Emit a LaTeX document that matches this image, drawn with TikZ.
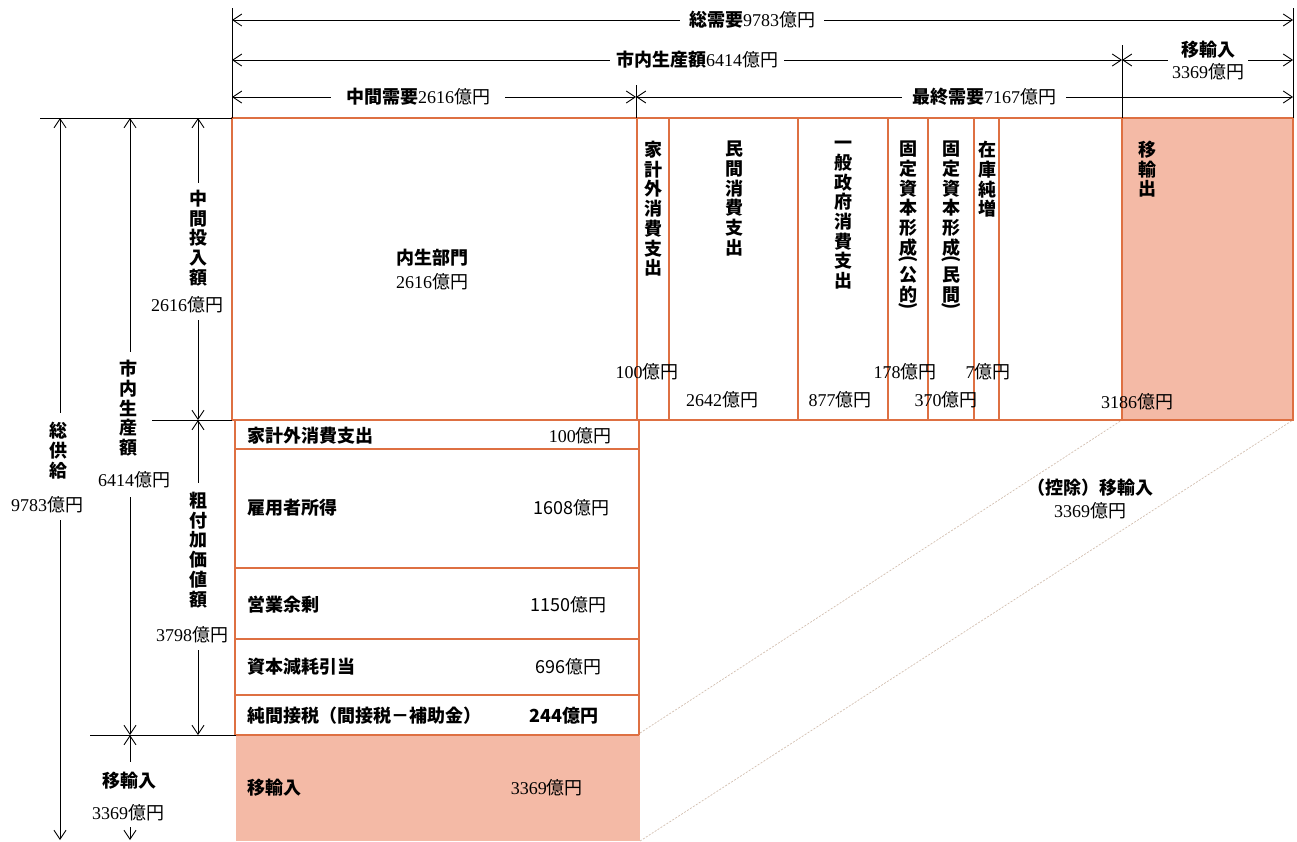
\documentclass[tikz,border=0pt]{standalone}
\usepackage{fontspec}
\setmainfont{Liberation Serif}
\newfontfamily\jp{Noto Sans CJK JP}
\usetikzlibrary{arrows.meta}
\definecolor{lineor}{RGB}{222,112,66}
\definecolor{salmon}{RGB}{244,186,166}
\definecolor{dotc}{RGB}{210,190,175}
\newcommand\ok[1]{#1{\jp 億円}}
\newcommand\B{\jp\bfseries}
\newcommand\vop{\rotatebox[origin=c]{-90}{(}}
\newcommand\vcl{\rotatebox[origin=c]{-90}{)}}
\begin{document}
\begin{tikzpicture}[x=1pt,y=-1pt,
  tab/.style={draw=lineor, line width=1.1pt},
  guide/.style={draw=black, line width=0.9pt},
  barb/.tip={Straight Barb[length=9pt,width=12pt,line width=0.9pt]},
  dim/.style={guide, barb-barb},
  dimS/.style={guide, barb-},
  dimE/.style={guide, -barb},
  diag/.style={draw=dotc, line width=0.7pt, dash pattern=on 2pt off 1.5pt},
  lbl/.style={fill=white, inner xsep=6pt, inner ysep=1pt, font=\fontsize{18}{21}\selectfont},
  txt/.style={inner sep=1pt, font=\fontsize{18}{21}\selectfont},
  vt/.style={align=center, inner sep=0pt, anchor=north, font=\B\fontsize{18}{19.7}\selectfont}]
\useasboundingbox (0,0) rectangle (1297,841);
% ---------- fills
\fill[salmon] (1122,118) rectangle (1293,420);
\fill[salmon] (236,735) rectangle (640,841);
% ---------- diagonal guides
\coordinate (d1a) at (640,733); \coordinate (d1b) at (1122,420);
\coordinate (d2a) at (640,841); \coordinate (d2b) at (1293,420);
\draw[diag] (d1a) -- (d1b);
\draw[diag] (d2a) -- (d2b);
% ---------- top table
\draw[tab] (232,118) rectangle (1293,420);
\foreach \x in {637,669,798,888,928,974,999,1122} \draw[tab] (\x,118) -- (\x,420);
% ---------- value-added block
\draw[tab] (235,420) -- (235,735) (639,420) -- (639,735);
\foreach \y in {449,568,639,695,735} \draw[tab] (235,\y) -- (639,\y);
% ---------- black guide lines
\draw[guide] (232,8) -- (232,118);
\draw[guide] (1293,8) -- (1293,118);
\draw[guide] (1122,45) -- (1122,118);
\draw[guide] (636,85) -- (636,118);
\draw[guide] (40,118) -- (232,118);
\draw[guide] (152,420) -- (232,420);
\draw[guide] (90,735) -- (236,735);
% ---------- top dimension lines
\coordinate (t1L) at (232,20);  \coordinate (t1R) at (1293,20);
\coordinate (t2L) at (232,60);  \coordinate (t2M) at (1122,60); \coordinate (t2R) at (1293,60);
\coordinate (t3L) at (232,97);  \coordinate (t3M) at (636,97);  \coordinate (t3R) at (1293,97);
\draw[dim] (t1L) -- (t1R);
\draw[dim] (t2L) -- (t2M);
\draw[dim] (t2M) -- (t2R);
\draw[dim] (t3L) -- (t3M);
\draw[dim] (t3M) -- (t3R);
\node[lbl, inner xsep=9pt] (sojuyo) at (752,20) {{\B 総需要}\ok{9783}};
\node[lbl] (shinai) at (697,60) {{\B 市内生産額}\ok{6414}};
\node[lbl, inner xsep=15pt] (chukan) at (418,97) {{\B 中間需要}\ok{2616}};
\node[lbl, inner xsep=10pt] (saishu) at (984,97) {{\B 最終需要}\ok{7167}};
\node[fill=white, inner xsep=4pt, inner ysep=0pt, align=center, font=\fontsize{18}{22}\selectfont] (iyunyuT) at (1208,61) {{\B 移輸入}\\\ok{3369}};
% ---------- left dimension lines
\coordinate (s0) at (60,118);  \coordinate (s1) at (60,413); \coordinate (s2) at (60,520); \coordinate (s3) at (60,840);
\draw[dimS] (s0) -- (s1);
\draw[dimE] (s2) -- (s3);
\node[vt] (sokyo) at (58,422) {総\\供\\給};
\node[txt] (sokyoN) at (47,505) {\ok{9783}};
\coordinate (p0) at (130,118); \coordinate (p1) at (130,352); \coordinate (p2) at (130,497); \coordinate (p3) at (130,735);
\draw[dimS] (p0) -- (p1);
\draw[dimE] (p2) -- (p3);
\node[vt] (seisan) at (128,360) {市\\内\\生\\産\\額};
\node[txt] (seisanN) at (134,480) {\ok{6414}};
\coordinate (m0) at (130,735); \coordinate (m1) at (130,762); \coordinate (m2) at (130,827); \coordinate (m3) at (130,840);
\draw[dimS] (m0) -- (m1);
\draw[dimE] (m2) -- (m3);
\node[txt, font=\B\fontsize{18}{21}\selectfont] (iyunyuL) at (129,781) {移輸入};
\node[txt] (iyunyuLN) at (128,813) {\ok{3369}};
\coordinate (c0) at (198,118); \coordinate (c1) at (198,183); \coordinate (c2) at (198,320); \coordinate (c3) at (198,420);
\draw[dimS] (c0) -- (c1);
\draw[dimE] (c2) -- (c3);
\node[vt] (tonyu) at (198,190) {中\\間\\投\\入\\額};
\node[txt] (tonyuN) at (187,305) {\ok{2616}};
\coordinate (v0) at (198,420); \coordinate (v1) at (198,483); \coordinate (v2) at (198,650); \coordinate (v3) at (198,735);
\draw[dimS] (v0) -- (v1);
\draw[dimE] (v2) -- (v3);
\node[vt] (fuka) at (198,492) {粗\\付\\加\\価\\値\\額};
\node[txt] (fukaN) at (192,635) {\ok{3798}};
% ---------- top table texts
\node[txt, font=\B\fontsize{18}{21}\selectfont] (naisei) at (432,258) {内生部門};
\node[txt] (naiseiN) at (432,282) {\ok{2616}};
\node[vt] (h1) at (653,141) {家\\計\\外\\消\\費\\支\\出};
\node[vt] (h2) at (734,141) {民\\間\\消\\費\\支\\出};
\node[vt] (h3) at (843,141) {一\\般\\政\\府\\消\\費\\支\\出};
\node[vt] (h4) at (908,141) {固\\定\\資\\本\\形\\成\\[-9pt]\vop\\[-3pt]公\\的\\[-9pt]\vcl};
\node[vt] (h5) at (951,141) {固\\定\\資\\本\\形\\成\\[-9pt]\vop\\[-3pt]民\\間\\[-9pt]\vcl};
\node[vt] (h6) at (987,141) {在\\庫\\純\\増};
\node[vt] (h7) at (1147,141) {移\\輸\\出};
\node[txt] (n1) at (647,372) {\ok{100}};
\node[txt] (n2) at (722,400) {\ok{2642}};
\node[txt] (n3) at (840,400) {\ok{877}};
\node[txt] (n4) at (905,372) {\ok{178}};
\node[txt] (n5) at (946,400) {\ok{370}};
\node[txt] (n6) at (988,372) {\ok{7}};
\node[txt] (n7) at (1137,402) {\ok{3186}};
% ---------- value-added rows
\begin{scope}[every node/.style={txt, font=\B\fontsize{18}{21}\selectfont, anchor=west}]
\node (r1) at (246,436) {家計外消費支出};
\node (r2) at (246,508) {雇用者所得};
\node (r3) at (246,605) {営業余剰};
\node (r4) at (246,667) {資本減耗引当};
\node (r5) at (246,716) {純間接税（間接税－補助金）};
\node (r6) at (246,788) {移輸入};
\end{scope}
\begin{scope}[every node/.style={txt, anchor=east}]
\node (r1n) at (613,436) {\ok{100}};
\node[font=\jp\fontsize{18}{21}\selectfont] (r2n) at (611,508) {1608億円};
\node[font=\jp\fontsize{18}{21}\selectfont] (r3n) at (608,605) {1150億円};
\node[font=\jp\fontsize{18}{21}\selectfont] (r4n) at (603,667) {696億円};
\node[font=\B\fontsize{18}{21}\selectfont] (r5n) at (600,716) {244億円};
\node (r6n) at (584,788) {\ok{3369}};
\end{scope}
% ---------- deducted imports
\node[txt, font=\B\fontsize{18}{21}\selectfont] (koj) at (1090,488) {（控除）移輸入};
\node[txt] (kojN) at (1090,511) {\ok{3369}};
\end{tikzpicture}
\end{document}
